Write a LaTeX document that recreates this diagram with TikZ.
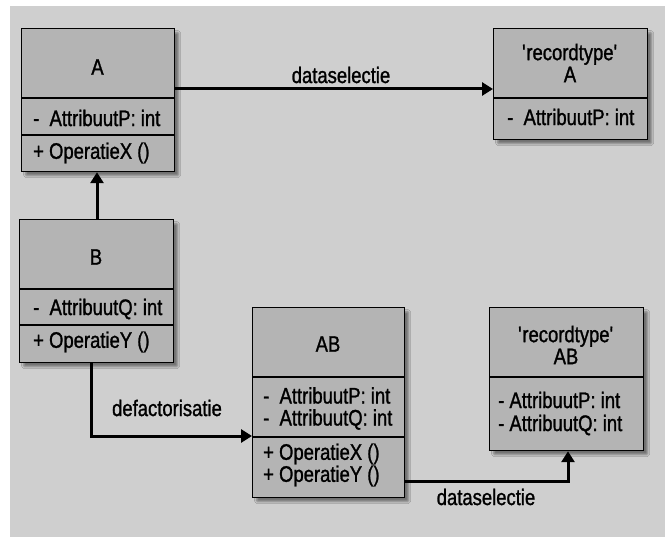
\documentclass[tikz,border=0pt]{standalone}
\usepackage{fontspec}
\setmainfont[FakeStretch=0.82,FakeBold=1.2]{Liberation Sans}
\usetikzlibrary{arrows.meta,shadows.blur}

\definecolor{bggray}{RGB}{207,207,207}
\definecolor{boxgray}{RGB}{180,180,180}

\newcommand{\sq}{\textquotesingle}

\tikzset{
  cls/.style={draw=black, line width=1.2pt, fill=boxgray, inner sep=0pt,
    anchor=north west,
    blur shadow={shadow xshift=4pt, shadow yshift=-4pt, shadow blur steps=6,
      shadow blur extra rounding=1pt, shadow opacity=45}},
  sep/.style={line width=1.2pt},
  ttl/.style={font=\fontsize{22.5}{24}\selectfont, inner sep=0pt, align=center},
  mem/.style={font=\fontsize{22.5}{22}\selectfont, inner sep=0pt, anchor=west, align=left},
  lab/.style={font=\fontsize{22.5}{24}\selectfont, inner sep=0pt},
  link/.style={line width=3pt, -{Triangle[length=11pt,width=13pt]}}
}

\begin{document}
\begin{tikzpicture}[x=1pt,y=-1pt]
\useasboundingbox (0,0) rectangle (671,537);
\fill[bggray] (10,6) rectangle (665,537);

% class A
\node[cls, minimum width=153pt, minimum height=143pt] (A) at (21,28) {};
\draw[sep] (21,98) -- (174,98);
\draw[sep] (21,135) -- (174,135);
\node[ttl] (Aname) at (97.5,67) {A};
\node[mem] (Aattr) at (33,118) {-\ \ AttribuutP: int};
\node[mem] (Aop) at (33,153) {+ OperatieX ()};

% record type A
\node[cls, minimum width=154pt, minimum height=111pt] (RA) at (493,28) {};
\draw[sep] (493,98) -- (647,98);
\node[ttl] (RAname) at (570,63) {\sq recordtype\sq\\[-2pt]A};
\node[mem] (RAattr) at (507,117) {-\ \ AttribuutP: int};

% class B
\node[cls, minimum width=154pt, minimum height=143pt] (B) at (19,219) {};
\draw[sep] (19,289) -- (173,289);
\draw[sep] (19,325) -- (173,325);
\node[ttl] (Bname) at (96,257) {B};
\node[mem] (Battr) at (33,309) {-\ \ AttribuutQ: int};
\node[mem] (Bop) at (33,342) {+ OperatieY ()};

% class AB
\node[cls, minimum width=152pt, minimum height=190pt] (AB) at (252,307) {};
\draw[sep] (252,377) -- (404,377);
\draw[sep] (252,437) -- (404,437);
\node[ttl] (ABname) at (328,344) {AB};
\node[mem] (ABattr) at (263,408.5) {-\ \ AttribuutP: int\\-\ \ AttribuutQ: int};
\node[mem] (ABop) at (263,465) {+ OperatieX ()\\+ OperatieY ()};

% record type AB
\node[cls, minimum width=154pt, minimum height=143pt] (RAB) at (489,307) {};
\draw[sep] (489,377) -- (643,377);
\node[ttl] (RABname) at (566,345) {\sq recordtype\sq\\[-2pt]AB};
\node[mem] (RABattr) at (498,413.5) {- AttribuutP: int\\[1pt]- AttribuutQ: int};

% connectors
\draw[link] (A.east |- 0,89) -- (RA.west |- 0,89);
\node[lab] (sel1) at (341,75) {dataselectie};

\draw[link] (B.north -| 97,0) -- (A.south -| 97,0);

\draw[link] (B.south -| 91,0) |- (AB.west |- 0,436);
\node[lab] (defac) at (167,408) {defactorisatie};

\draw[link] (AB.east |- 0,481) -| (RAB.south -| 568,0);
\node[lab] (sel2) at (486,497) {dataselectie};
\end{tikzpicture}
\end{document}
